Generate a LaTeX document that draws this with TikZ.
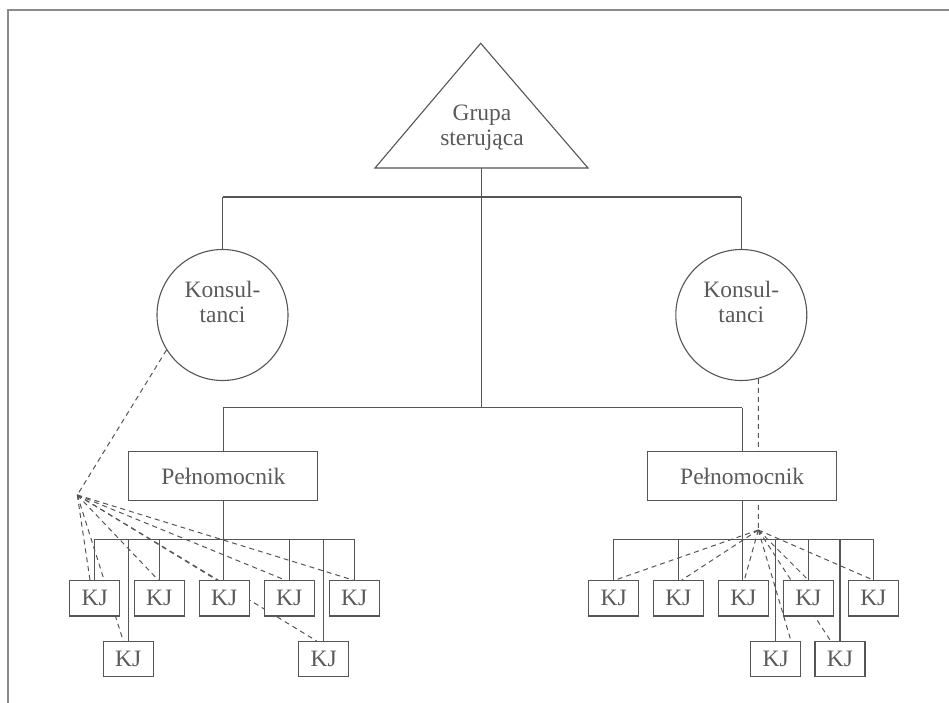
\documentclass[tikz,border=0pt]{standalone}
\usepackage{fontspec}
\setmainfont{Liberation Serif}
\usetikzlibrary{backgrounds}
\definecolor{ink}{HTML}{555555}
\definecolor{txt}{HTML}{5A5A5A}
\definecolor{frm}{HTML}{8A8A8A}
\tikzset{
  conn/.style={draw=ink, line width=1.1pt},
  dconn/.style={draw=ink, line width=1.0pt, dash pattern=on 5pt off 4pt},
  lbl/.style={text=txt, font=\fontsize{23.5}{25}\selectfont, align=center, inner sep=0pt},
  kj/.style={draw=ink, line width=1.1pt, fill=white, text=txt, inner sep=0pt,
     minimum width=50pt, minimum height=35.3pt, font=\fontsize{23.5}{25}\selectfont},
  pel/.style={draw=ink, line width=1.1pt, fill=white, text=txt, inner sep=0pt,
     minimum width=188.8pt, minimum height=48.6pt, font=\fontsize{23.5}{25}\selectfont},
  kons/.style={draw=ink, line width=1.1pt, circle, minimum size=131pt, inner sep=0pt}
}
\begin{document}
\begin{tikzpicture}[x=1pt,y=-1pt]
\useasboundingbox (0,0) rectangle (949,703);
% frame
\coordinate (frTL) at (7.5,10.5);
\coordinate (frTR) at (949,10.5);
\coordinate (frBL) at (7.5,703);
\draw[frm, line width=2pt] (frBL) -- (frTL) -- (frTR);

% triangle
\coordinate (apex) at (480.7,43.3);
\coordinate (tl) at (375,168);
\coordinate (tr) at (588,168);
\coordinate (tb) at (481.7,168);
\draw[conn, line join=miter] (apex) -- (tl) -- (tr) -- cycle;
\node[lbl] (grupa) at (482,127.5) {Grupa\\sterująca};

% levels
\coordinate (h1) at (0,197);
\coordinate (h2) at (0,407.7);
\coordinate (by) at (0,539.3);

% consultants
\node[kons] (konsL) at (222.5,315) {};
\node[kons] (konsR) at (741.3,315) {};
\node[lbl] (konsLt) at (222.5,301.5) {Konsul-\\tanci};
\node[lbl] (konsRt) at (741.3,301.5) {Konsul-\\tanci};

% plenipotentiaries
\node[pel] (pelL) at (223.3,476) {Pełnomocnik};
\node[pel] (pelR) at (742.2,476) {Pełnomocnik};

% left KJ
\node[kj] (L1) at (94.7,598.3) {KJ};
\node[kj] (L2) at (159.3,598.3) {KJ};
\node[kj] (L3) at (224.3,598.3) {KJ};
\node[kj] (L4) at (289.3,598.3) {KJ};
\node[kj] (L5) at (354.3,598.3) {KJ};
\node[kj] (LB1) at (128.3,659.2) {KJ};
\node[kj] (LB2) at (323.7,659.2) {KJ};
% right KJ
\node[kj] (R1) at (613.7,598.3) {KJ};
\node[kj] (R2) at (678.3,598.3) {KJ};
\node[kj] (R3) at (743.3,598.3) {KJ};
\node[kj] (R4) at (808.3,598.3) {KJ};
\node[kj] (R5) at (873.3,598.3) {KJ};
\node[kj] (RB1) at (775.7,659.2) {KJ};
\node[kj] (RB2) at (840,659.2) {KJ};

\coordinate (FL) at (77.3,495);
\coordinate (FR) at (758.3,530);

\begin{pgfonlayer}{background}
% solid tree
\draw[conn] (tb) -- (tb |- h2);
\draw[conn] (konsL.north |- h1) -- (konsR.north |- h1);
\draw[conn] (konsL.north |- h1) -- (konsL.north);
\draw[conn] (konsR.north |- h1) -- (konsR.north);
\draw[conn] (pelL.north |- h2) -- (pelR.north |- h2);
\draw[conn] (pelL.north |- h2) -- (pelL.north);
\draw[conn] (pelR.north |- h2) -- (pelR.north);
% left bus
\draw[conn] (L1.north |- by) -- (L5.north |- by);
\draw[conn] (pelL.south) -- (pelL.south |- L3.north);
\foreach \n in {L1,L2,L4,L5,LB1,LB2} \draw[conn] (\n.north |- by) -- (\n.north);
% right bus
\draw[conn] (R1.north |- by) -- (R5.north |- by);
\draw[conn] (pelR.south) -- (pelR.south |- R3.north);
\foreach \n in {R1,R2,R4,R5,RB1,RB2} \draw[conn] (\n.north |- by) -- (\n.north);
% dashed left
\draw[dconn] (konsL.212) -- (FL);
\draw[dconn] (FL) -- ([xshift=-4.7pt]L1.north);
\draw[dconn] (FL) -- ([xshift=-5pt]LB1.north);
\draw[dconn] (FL) -- ([xshift=-1pt]L2.north);
\draw[dconn] (FL) -- ([xshift=-6pt]L3.north);
\draw[dconn] (FL) -- ([xshift=-7pt]LB2.north);
\draw[dconn] (FL) -- ([xshift=-4pt]L4.north);
\draw[dconn] (FL) -- ([xshift=-1pt]L5.north);
% dashed right
\draw[dconn] (konsR.-75) -- (FR);
\draw[dconn] (FR) -- ([xshift=1.3pt]R1.north);
\draw[dconn] (FR) -- ([xshift=3.4pt]R2.north);
\draw[dconn] (FR) -- ([xshift=1pt]R3.north);
\draw[dconn] (FR) -- ([xshift=15.3pt]RB1.north);
\draw[dconn] (FR) -- (R4.north);
\draw[dconn] (FR) -- ([xshift=-9.3pt]RB2.north);
\draw[dconn] (FR) -- (R5.north);
\end{pgfonlayer}
\end{tikzpicture}
\end{document}
